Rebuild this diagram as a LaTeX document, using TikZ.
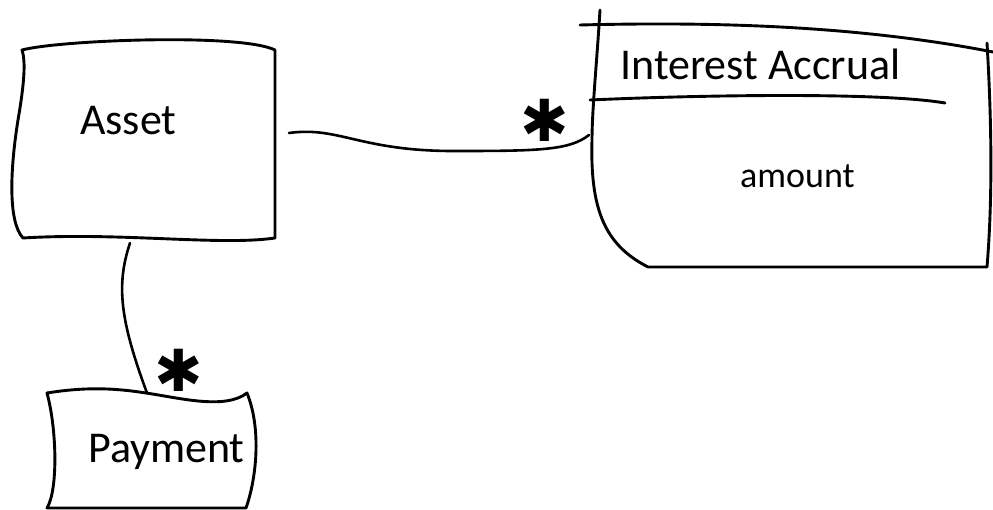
\documentclass[tikz,border=0pt]{standalone}
\usepackage{fontspec}
\setmainfont{Carlito}
\newfontfamily\starfont{DejaVu Sans}
\begin{document}
\begin{tikzpicture}[x=1pt,y=-1pt,
  outline/.style={draw=black,line width=2.9pt,line join=round,line cap=round},
  conn/.style={draw=black,line width=2.6pt,line cap=round},
  label/.style={inner sep=0pt,font=\fontsize{44}{48}\selectfont},
  small/.style={inner sep=0pt,font=\fontsize{36}{40}\selectfont},
  mult/.style={inner sep=0pt,font=\starfont\fontsize{58}{60}\selectfont}]
\useasboundingbox (0,0) rectangle (993,510);
% Asset
\draw[outline] (22,50) .. controls (60,40) and (240,33) .. (275,50) -- (275,238)
  .. controls (220,246) and (120,232) .. (23,238)
  .. controls (8,222) and (10,170) .. (18,120)
  .. controls (24,85) and (26,62) .. (22,50) -- cycle;
\node[label,anchor=base west] (asset) at (80,135) {Asset};
% Interest Accrual
\draw[outline] (580,25) .. controls (700,22) and (850,24) .. (993,52);
\draw[outline] (600,10) .. controls (597,60) and (592,110) .. (592,140)
  .. controls (590,210) and (605,245) .. (648,267) -- (987,267)
  .. controls (990,230) and (994,160) .. (987,43);
\draw[outline] (590,100) .. controls (700,95) and (880,92) .. (945,103);
\node[label,anchor=base west] (interest) at (620,80) {Interest Accrual};
\node[small,anchor=base west] (amount) at (740,188) {amount};
% Payment
\draw[outline] (47,393) .. controls (90,386) and (120,389) .. (146,393)
  .. controls (180,398) and (225,410) .. (247,393)
  .. controls (262,430) and (256,480) .. (246,508) -- (47,508)
  .. controls (58,490) and (57,430) .. (47,393) -- cycle;
\node[label,anchor=base west] (payment) at (88,462) {Payment};
% connectors
\coordinate (a1) at (289,133);
\coordinate (i1) at (589,135);
\coordinate (a2) at (130,243);
\coordinate (p1) at (147,393);
\draw[conn] (a1) .. controls (340,126) and (360,152) .. (460,151)
  .. controls (540,151) and (570,150) .. (i1);
\draw[conn] (a2) .. controls (116,285) and (120,320) .. (p1);
\node[mult] (m1) at (545,120) {✱};
\node[mult] (m2) at (179,370) {✱};
\end{tikzpicture}
\end{document}
